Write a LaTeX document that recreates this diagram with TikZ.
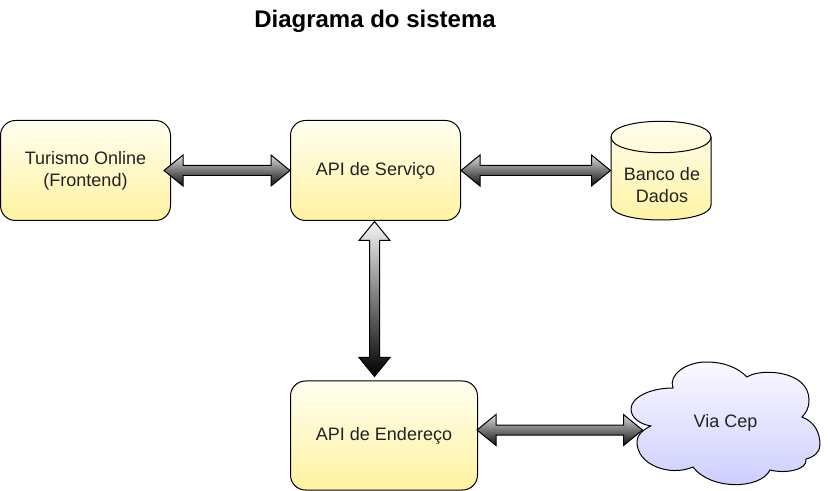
\documentclass[tikz,border=0pt]{standalone}
\usepackage{fontspec}
\setmainfont{Liberation Sans}
\usetikzlibrary{positioning, calc}
\definecolor{boxtop}{HTML}{FFFEF0}
\definecolor{boxbottom}{HTML}{FFF2A0}
\definecolor{cloudtop}{HTML}{FAF8FF}
\definecolor{cloudbottom}{HTML}{CCCCFF}
\definecolor{arrowtop}{HTML}{DCDCDC}
\definecolor{arrowbottom}{HTML}{101010}
\definecolor{textcolor}{HTML}{222222}

% seta larga entre dois pontos (horizontal)
\newcommand{\harrow}[2]{
  \path[fatarrow] (#1) -- ($(#1)+(19,-15.5)$) -- ($(#1)+(19,-5)$) -- ($(#2)+(-19,-5)$) -- ($(#2)+(-19,-15.5)$) -- (#2)
    -- ($(#2)+(-19,15.5)$) -- ($(#2)+(-19,5)$) -- ($(#1)+(19,5)$) -- ($(#1)+(19,15.5)$) -- cycle;
}
% seta larga entre dois pontos (vertical)
\newcommand{\varrow}[2]{
  \path[fatarrow, top color=gray!8, bottom color=black] (#1) -- ($(#1)+(15.5,19)$) -- ($(#1)+(5,19)$) -- ($(#2)+(5,-19)$) -- ($(#2)+(15.5,-19)$) -- (#2)
    -- ($(#2)+(-15.5,-19)$) -- ($(#2)+(-5,-19)$) -- ($(#1)+(-5,19)$) -- ($(#1)+(-15.5,19)$) -- cycle;
}

\begin{document}
\begin{tikzpicture}[x=0.75pt, y=-0.75pt, line width=0.75pt, font=\fontsize{13.5}{16.5}\selectfont, text=textcolor,
               service/.style ={rectangle, rounded corners=11.25pt, draw=black, top color=boxtop, bottom color=boxbottom,
               minimum width=127.5pt, minimum height=75pt, inner sep=0pt, align=center},
               blank/.style ={inner sep=0pt, align=center},
               fatarrow/.style ={draw=black, top color=arrowtop, bottom color=arrowbottom, line join=miter}]

    \useasboundingbox (0,0) rectangle (828,491);

    \node[blank, font=\fontsize{18}{22}\selectfont\bfseries, text=black] (title) at (375,21.5) {Diagrama do sistema};

    \node[service] (front) at (85.5,170.5) {Turismo Online\\(Frontend)};
    \node[service] (api) at (375.5,170.5) {API de Serviço};
    \node[service, minimum width=140.25pt, minimum height=81.75pt] (addr) at (384,435.5) {API de Endereço};

    % banco de dados
    \path[draw=black, top color=boxtop, bottom color=boxbottom] (611,137) .. controls (611,116) and (711,116) .. (711,137)
        -- (711,205) .. controls (711,225) and (611,225) .. (611,205) -- cycle;
    \draw (611,137) .. controls (611,158) and (711,158) .. (711,137);
    \node[blank, minimum width=75pt, minimum height=74.25pt] (db) at (661,170.5) {};
    \node[blank] (dbtext) at (662,185) {Banco de\\Dados};

    % nuvem
    \path[draw=black, top color=cloudtop, bottom color=cloudbottom] (650.7,426)
        .. controls (640,424) and (631,418) .. (631,409)
        .. controls (631,398) and (649,388) .. (673,388)
        .. controls (668,375) and (686,362) .. (706,362)
        .. controls (725,362) and (738,368) .. (747,377)
        .. controls (760,368) and (809,370) .. (809,400)
        .. controls (809,408) and (806,413) .. (802,417)
        .. controls (815,422) and (820,433) .. (820,445)
        .. controls (820,452) and (814,457) .. (806,459)
        .. controls (808,470) and (785,474) .. (770,470)
        .. controls (760,490) and (710,490) .. (693,467)
        .. controls (670,477) and (636,465) .. (637,441)
        .. controls (637,435) and (644,429) .. (650.7,426) -- cycle;
    \node[blank, minimum width=141.75pt, minimum height=91.5pt] (via) at (725.5,423) {Via Cep};

    \harrow{$(front.east)+(-7,0)$}{api.west}
    \harrow{api.east}{db.west}
    \varrow{$(api.south)+(-1,0.5)$}{$(addr.north)+(-9.5,-4)$}
    \harrow{$(addr.east)+(-1,-5.5)$}{$(via.west)+(12,7)$}

\end{tikzpicture}
\end{document}
